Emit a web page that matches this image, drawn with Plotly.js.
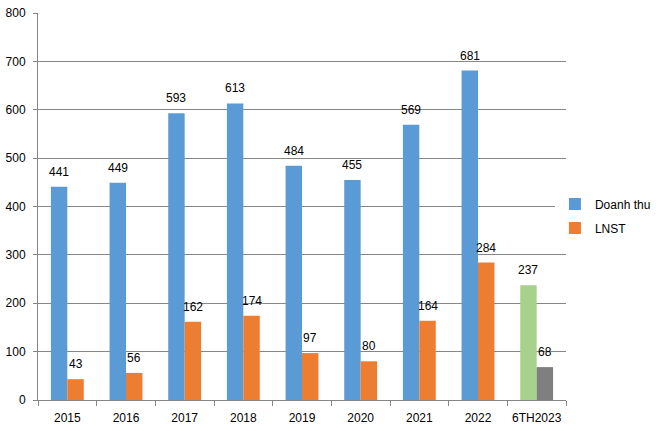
<!DOCTYPE html>
<html>
<head>
<meta charset="utf-8">
<script src="https://cdn.plot.ly/plotly-3.0.1.min.js"></script>
<style>html,body{margin:0;padding:0;background:#fff}#chart{width:667px;height:431px}</style>
</head>
<body>
<div id="chart"></div>
<script>
const categories = ["2015","2016","2017","2018","2019","2020","2021","2022","6TH2023"];
const doanhThu = [441,449,593,613,484,455,569,681,237];
const lnst = [43,56,162,174,97,80,164,284,68];
const seriesNames = ["Doanh thu","LNST"];
const yTicks = [0,100,200,300,400,500,600,700,800];

const blue = "#5B9BD5", orange = "#ED7D31", green = "#A9D18E", gray = "#7F7F7F";
const dtColors = categories.map((c,i)=> i===categories.length-1 ? green : blue);
const lnColors = categories.map((c,i)=> i===categories.length-1 ? gray : orange);
const font = {family:"Liberation Sans, Arial, sans-serif", size:12, color:"#000"};

const traces = [
  {type:"bar", name:seriesNames[0], legendgroup:"a", x:categories, y:doanhThu, marker:{color:dtColors}, hoverinfo:"none"},
  {type:"bar", name:seriesNames[1], legendgroup:"b", x:categories, y:lnst, marker:{color:lnColors}, hoverinfo:"none"}
];

const annotations = [];
const off = 8.3;
categories.forEach((c,i)=>{
  annotations.push({x:i, y:doanhThu[i], xref:"x", yref:"y", text:String(doanhThu[i]), showarrow:false, xshift:-off, yshift:6, yanchor:"bottom", font:font});
  annotations.push({x:i, y:lnst[i], xref:"x", yref:"y", text:String(lnst[i]), showarrow:false, xshift:off, yshift:6, yanchor:"bottom", font:font});
});

const layout = {
  width:667, height:431,
  margin:{l:38, r:101, t:13, b:31, autoexpand:false},
  paper_bgcolor:"#fff", plot_bgcolor:"#fff",
  font:font,
  barmode:"group", bargap:0.44, bargroupgap:0,
  showlegend:true,
  legend:{xref:"container", yref:"container", x:0.832, y:0.499, xanchor:"left", yanchor:"middle", font:font, tracegroupgap:5, itemwidth:30},
  xaxis:{type:"category", range:[-0.5, categories.length-0.5], showline:true, linecolor:"#868686", linewidth:1, ticks:"outside", tickson:"boundaries", ticklen:5, tickcolor:"#868686", showgrid:false, tickfont:font, tickangle:0, ticklabelstandoff:7, fixedrange:true},
  yaxis:{range:[0,800], tickvals:yTicks, showline:true, linecolor:"#868686", linewidth:1, ticks:"outside", ticklen:4, tickcolor:"#868686", showgrid:true, gridcolor:"#868686", gridwidth:1, zeroline:false, tickfont:font, ticklabelstandoff:5, fixedrange:true},
  annotations:annotations
};

Plotly.newPlot("chart", traces, layout, {staticPlot:true});
</script>
</body>
</html>
